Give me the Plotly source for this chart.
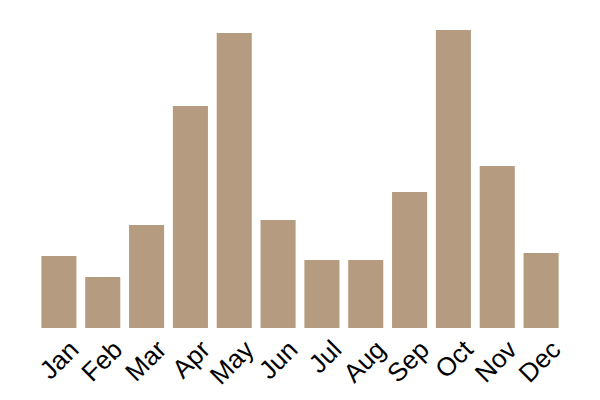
import plotly.graph_objects as go

months = ["Jan", "Feb", "Mar", "Apr", "May", "Jun", "Jul", "Aug", "Sep", "Oct", "Nov", "Dec"]
values = [24, 17, 34.3, 74, 98.3, 36, 22.7, 22.7, 45.3, 99.3, 54, 25]

BAR_COLOR = "#b59b7f"

fig = go.Figure(
  go.Bar(x=months, y=values, marker_color=BAR_COLOR, marker_line_width=0),
)
fig.update_layout(
  width=600,
  height=400,
  margin=dict(l=29, r=45, t=20, b=80),
  paper_bgcolor="white",
  plot_bgcolor="white",
  bargap=0.2,
  showlegend=False,
  font=dict(family="Liberation Sans, Arial", size=23, color="black"),
)
fig.update_xaxes(
  tickangle=-45,
  tickfont=dict(size=26),
  ticklabelshift=12,
  showgrid=False,
  showline=False,
  ticks="",
  zeroline=False,
  automargin=False,
)
fig.update_yaxes(range=[0, 100], visible=False, automargin=False)
fig.write_html("out.html")
